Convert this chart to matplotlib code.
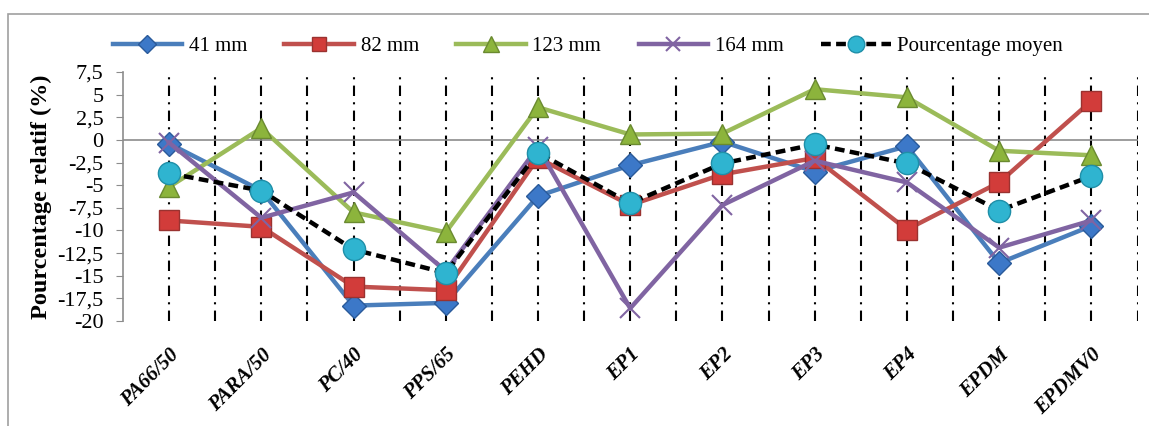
import matplotlib.pyplot as plt
import numpy as np
from matplotlib.patches import Rectangle

# Données
categories = ["PA66/50", "PARA/50", "PC/40", "PPS/65", "PEHD", "EP1", "EP2", "EP3", "EP4", "EPDM", "EPDMV0"]
mm41 = [-0.4, -5.6, -18.3, -18.0, -6.2, -2.8, -0.2, -3.5, -0.7, -13.6, -9.5]
mm82 = [-8.9, -9.6, -16.2, -16.6, -2.0, -7.2, -3.8, -2.0, -9.9, -4.7, 4.3]
mm123 = [-5.2, 1.3, -8.0, -10.2, 3.6, 0.6, 0.7, 5.6, 4.7, -1.2, -1.7]
mm164 = [-0.3, -8.6, -5.8, -14.5, -0.8, -18.6, -7.2, -2.3, -4.7, -11.9, -8.9]
moyen = [-3.7, -5.6, -12.1, -14.7, -1.4, -7.0, -2.6, -0.5, -2.6, -7.8, -4.0]
yticks = [7.5, 5, 2.5, 0, -2.5, -5, -7.5, -10, -12.5, -15, -17.5, -20]

plt.rcParams["font.family"] = ["Liberation Serif", "DejaVu Serif"]

fig = plt.figure(figsize=(11.49, 4.26), dpi=100)
ax = fig.add_axes([0.107, 0.2465, 0.883, 0.5845])

x = np.arange(len(categories))

# cadre extérieur du graphique
fig.patches.append(Rectangle((8 / 1149, -0.1), 1.2, 1.1 - 14 / 426, transform=fig.transFigure,
                             fill=False, edgecolor="#a0a0a0", lw=1.2))

# lignes verticales pointillées
for xv in np.arange(0, len(categories), 0.5):
    ax.axvline(xv, color="black", lw=1.5, dashes=(5, 3, 1, 3), zorder=1)
ax.axhline(0, color="#8c8c8c", lw=1.2, zorder=1.5)

ax.plot(x, mm41, color="#4a7ebb", lw=3.2, marker="D", ms=12, mfc="#3c78c8", mec="#2a5a9a",
        label="41 mm", zorder=3)
ax.plot(x, mm82, color="#c0504d", lw=3.2, marker="s", ms=14, mfc="#d23c3a", mec="#9a3230",
        label="82 mm", zorder=4)
ax.plot(x, mm123, color="#9bbb59", lw=3.2, marker="^", ms=15, mfc="#8cb43c", mec="#6a8a30",
        label="123 mm", zorder=5)
ax.plot(x, mm164, color="#8064a2", lw=3.2, marker="x", ms=14, mew=1.5, mec="#8064a2",
        label="164 mm", zorder=6)
ax.plot(x, moyen, color="black", lw=3.2, ls=(0, (2.2, 1.2)), marker="o", ms=16, mfc="#2fb4d0",
        mec="#1f8fa8", label="Pourcentage moyen", zorder=7)

ax.set_xlim(-0.5, len(categories) - 0.5)
ax.set_ylim(-20, 7.5)
ax.set_yticks(yticks)
ax.set_yticklabels([f"{v:g}".replace(".", ",") for v in yticks], fontsize=16)
ax.set_xticks(x)
ax.set_xticklabels(categories, rotation=45, ha="right", va="top", rotation_mode="anchor",
                   fontsize=15, fontweight="bold", fontstyle="italic")
ax.tick_params(axis="x", length=0, pad=17)
ax.tick_params(axis="y", direction="out", length=5, color="#8c8c8c", pad=9)
ax.set_ylabel("Pourcentage relatif (%)", fontsize=17.5, fontweight="bold", labelpad=4)

for s in ["top", "right", "bottom"]:
    ax.spines[s].set_visible(False)
ax.spines["left"].set_color("#8c8c8c")
ax.spines["left"].set_linewidth(1.2)

ax.legend(loc="center", bbox_to_anchor=(0.458, 1.104), ncol=5, frameon=False, fontsize=15,
          handlelength=3.35, columnspacing=1.8, handletextpad=0.3, borderaxespad=0.0,
          markerscale=0.75)

fig.savefig("out.png", dpi=100)
